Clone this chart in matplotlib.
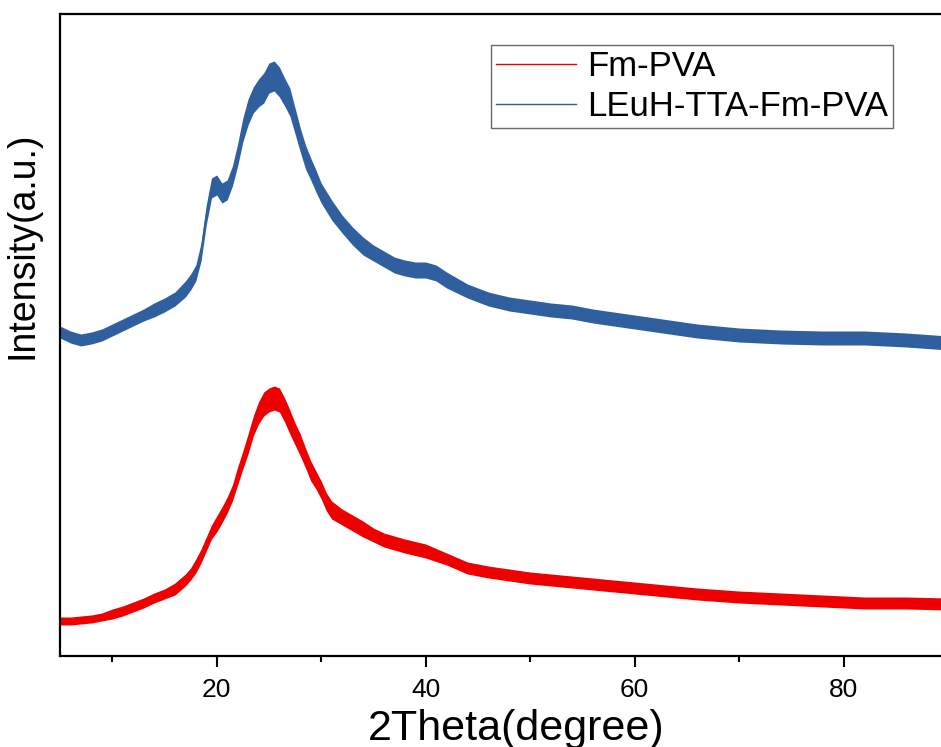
import numpy as np
import matplotlib
matplotlib.use("Agg")
import matplotlib.pyplot as plt

plt.rcParams['font.family'] = ['Liberation Sans', 'DejaVu Sans']

# XRD patterns, intensity in a.u., with the
# half-width of the noise band around each curve
x_fm = [5, 6, 7, 8, 9, 10, 11, 12, 13, 14, 15, 16,
        17, 17.5, 18, 18.5, 19, 19.5, 20, 20.5, 21, 21.5, 22, 22.5, 23, 23.5,
        24, 24.5, 25, 25.5, 26, 26.5, 27, 27.5, 28, 28.5, 29, 29.5, 30, 30.5, 31,
        32, 33, 34, 35, 36,
        38, 40, 42, 44, 46, 48, 50,
        54, 58, 62, 66, 70, 74, 78, 82, 86, 90]
y_fm = [35, 35, 36, 37, 39, 42, 45, 49, 53, 58, 62, 67,
        76, 82, 90, 100, 112, 124, 132, 141, 151, 163, 180, 196, 212, 230,
        243, 252, 256, 258, 256, 246, 234, 222, 211, 198, 185, 176, 166, 154, 146,
        139, 133, 127, 121, 116,
        110, 105, 97, 88, 84, 81, 78,
        74, 70, 66, 62, 59, 57, 55, 53, 53, 52]
noise_fm = [4, 4, 4, 4, 4, 5, 5, 5, 5, 5, 5, 6,
            6, 6, 7, 7, 7, 7, 8, 8, 8, 8, 9, 9, 10, 10,
            11, 12, 12, 12, 12, 12, 12, 11, 11, 10, 10, 9, 9, 9, 9,
            8, 8, 8, 7, 7,
            7, 7, 6, 6, 6, 6, 6,
            6, 6, 6, 6, 6, 6, 6, 6, 6, 6]

x_eu = [5, 6, 7, 8, 9, 10, 11, 12, 13, 14, 15, 16,
        17, 17.5, 18, 18.5, 19, 19.5, 20, 20.5, 21, 21.5, 22, 22.5, 23, 23.5,
        24, 24.5, 25, 25.5, 26, 26.5, 27, 27.5, 28, 28.5, 29, 29.5, 30,
        31, 32, 33, 34, 35, 36, 37, 38, 39, 40, 41, 42,
        44, 46, 48, 50, 52, 54, 56, 58, 60, 62, 64, 66, 68, 70,
        74, 78, 82, 86, 90]
y_eu = [324, 319, 316, 318, 321, 326, 331, 336, 341, 346, 351, 357,
        367, 374, 383, 404, 441, 468, 471, 463, 466, 480, 501, 526, 544, 556,
        563, 568, 578, 580, 574, 564, 554, 535, 516, 499, 487, 475, 463,
        446, 432, 420, 410, 403, 397, 391, 388, 386, 386, 383, 376,
        365, 357, 352, 349, 346, 344, 340, 337, 334, 331, 328, 325, 323, 321,
        319, 318, 318, 316, 313]
noise_eu = [6, 6, 6, 6, 6, 6, 6, 6, 6, 7, 7, 7,
            8, 8, 8, 9, 10, 10, 10, 10, 10, 10, 11, 12, 13, 13,
            14, 15, 15, 15, 15, 14, 14, 13, 12, 12, 11, 11, 10,
            10, 9, 9, 9, 8, 8, 8, 8, 8, 8, 8, 8,
            7, 7, 7, 7, 7, 7, 7, 7, 7, 7, 7, 7, 7, 7,
            7, 7, 7, 7, 7]

red = '#ee0000'
blue = '#2f5f9e'

fig = plt.figure(figsize=(9.41, 7.47), dpi=100)
ax = fig.add_axes([60 / 941, 91 / 747, 888 / 941, 642 / 747])

for xs, ys, ns, c, lab in [(x_fm, y_fm, noise_fm, red, 'Fm-PVA'),
                           (x_eu, y_eu, noise_eu, blue, 'LEuH-TTA-Fm-PVA')]:
    xs, ys, ns = np.array(xs), np.array(ys), np.array(ns)
    ax.fill_between(xs, ys - ns, ys + ns, color=c, lw=0)
    ax.plot(xs, ys, color=c, lw=1.0, label=lab)

ax.set_xlim(5, 90)
ax.set_ylim(0, 642)
ax.set_xticks([20, 40, 60, 80])
ax.set_xticks([10, 30, 50, 70, 90], minor=True)
ax.set_yticks([])
ax.tick_params(axis='x', which='major', direction='out', length=8, width=1.5,
               labelsize=19, pad=8)
ax.tick_params(axis='x', which='minor', direction='out', length=4, width=1.5)
for s in ax.spines.values():
    s.set_linewidth(1.6)

ax.set_xlabel('2Theta(degree)', fontsize=31)
ax.set_ylabel('Intensity(a.u.)', fontsize=27)
ax.xaxis.set_label_coords(0.514, -0.082)
ax.yaxis.set_label_coords(-0.022, 0.64)

leg = ax.legend(loc='upper right', bbox_to_anchor=(0.938, 0.952),
                borderaxespad=0, fontsize=25, frameon=True, fancybox=False,
                handlelength=2.3, handletextpad=0.3, borderpad=0.15,
                labelspacing=0.2)
leg.get_frame().set_edgecolor('#444444')
leg.get_frame().set_linewidth(1.0)

plt.savefig('out.png', dpi=100)
plt.close()
